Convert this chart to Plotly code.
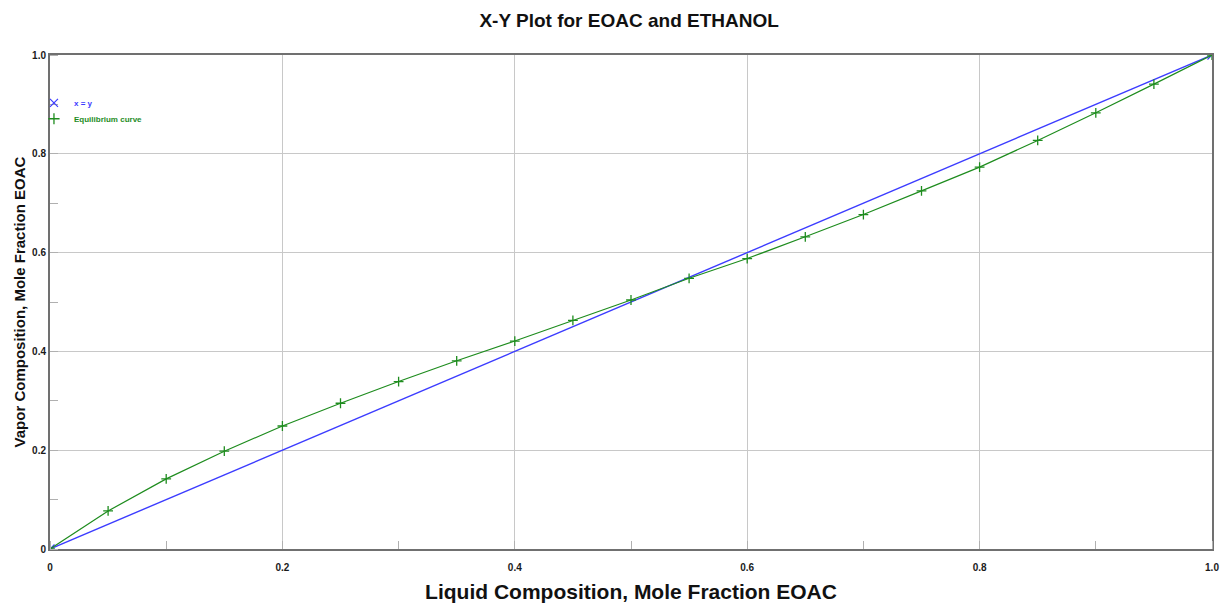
import plotly.graph_objects as go

# Liquid mole fraction of EOAC (x) and equilibrium vapor mole fraction (y)
liquid_x = [0.0, 0.05, 0.10, 0.15, 0.20, 0.25, 0.30, 0.35, 0.40, 0.45, 0.50,
            0.55, 0.60, 0.65, 0.70, 0.75, 0.80, 0.85, 0.90, 0.95, 1.0]
vapor_y = [0.0, 0.077, 0.142, 0.198, 0.249, 0.295, 0.339, 0.381, 0.421, 0.463, 0.504,
           0.548, 0.588, 0.632, 0.677, 0.725, 0.773, 0.827, 0.883, 0.941, 1.0]

# Diagonal reference line x = y
diag_x = [0.0, 1.0]
diag_y = [0.0, 1.0]

tick_vals = [0, 0.2, 0.4, 0.6, 0.8, 1.0]
tick_text = ["0", "0.2", "0.4", "0.6", "0.8", "1.0"]

BLUE = "#3c3cff"
GREEN = "#1e8c1e"
FONT = "Liberation Sans, Arial, sans-serif"

fig = go.Figure()

# Data traces (legend entries are drawn by symbol-only companions below)
fig.add_trace(go.Scatter(
    x=diag_x, y=diag_y, name="x = y", mode="lines+markers",
    line=dict(color=BLUE, width=1.4),
    marker=dict(symbol="x-thin-open", size=9, color=BLUE, line=dict(color=BLUE, width=1.2)),
    showlegend=False,
))
fig.add_trace(go.Scatter(
    x=liquid_x, y=vapor_y, name="Equilibrium curve", mode="lines+markers",
    line=dict(color=GREEN, width=1.2),
    marker=dict(symbol="cross-thin-open", size=7, color=GREEN, line=dict(color=GREEN, width=1.3)),
    showlegend=False,
))

# Symbol-only legend entries
fig.add_trace(go.Scatter(
    x=[None], y=[None], name="x = y", mode="markers",
    marker=dict(symbol="x-thin-open", size=8, color=BLUE, line=dict(color=BLUE, width=1.2)),
    legend="legend",
))
fig.add_trace(go.Scatter(
    x=[None], y=[None], name="Equilibrium curve", mode="markers",
    marker=dict(symbol="cross-thin-open", size=8, color=GREEN, line=dict(color=GREEN, width=1.3)),
    legend="legend2",
))

axis_common = dict(
    range=[0, 1],
    tickvals=tick_vals,
    ticktext=tick_text,
    showgrid=True,
    gridcolor="#c8c8c8",
    gridwidth=1,
    zeroline=False,
    showline=True,
    linecolor="#707070",
    linewidth=2,
    mirror=True,
    ticks="",
    automargin=False,
    tickfont=dict(family=FONT, size=10, color="#1a1a1a", weight="bold"),
    minor=dict(dtick=0.1, tick0=0, ticks="inside", ticklen=8, tickcolor="#b0b0b0",
               tickwidth=1, showgrid=False),
)

fig.update_xaxes(
    **axis_common,
    ticklabelstandoff=8,
    title=dict(text="Liquid Composition, Mole Fraction EOAC",
               font=dict(family=FONT, size=21, color="#111111", weight="bold"),
               standoff=12),
)
fig.update_yaxes(
    **axis_common,
    title=dict(text="Vapor Composition, Mole Fraction EOAC",
               font=dict(family=FONT, size=15, color="#111111", weight="bold"),
               standoff=3),
)

legend_common = dict(
    x=-0.0138, xanchor="left", yanchor="middle",
    bgcolor="rgba(0,0,0,0)", borderwidth=0,
    itemwidth=30, tracegroupgap=0,
)

fig.update_layout(
    width=1224, height=606,
    margin=dict(l=50, r=12, t=55, b=57),
    paper_bgcolor="white",
    plot_bgcolor="white",
    title=dict(text="X-Y Plot for EOAC and ETHANOL", x=0.514, xanchor="center",
               y=0.967, yanchor="middle",
               font=dict(family=FONT, size=19, color="#111111", weight="bold")),
    showlegend=True,
    legend=dict(**legend_common, y=0.903,
                font=dict(family=FONT, size=8, color=BLUE, weight="bold")),
    legend2=dict(**legend_common, y=0.871,
                 font=dict(family=FONT, size=8, color=GREEN, weight="bold")),
)

fig.write_html("out.html")
